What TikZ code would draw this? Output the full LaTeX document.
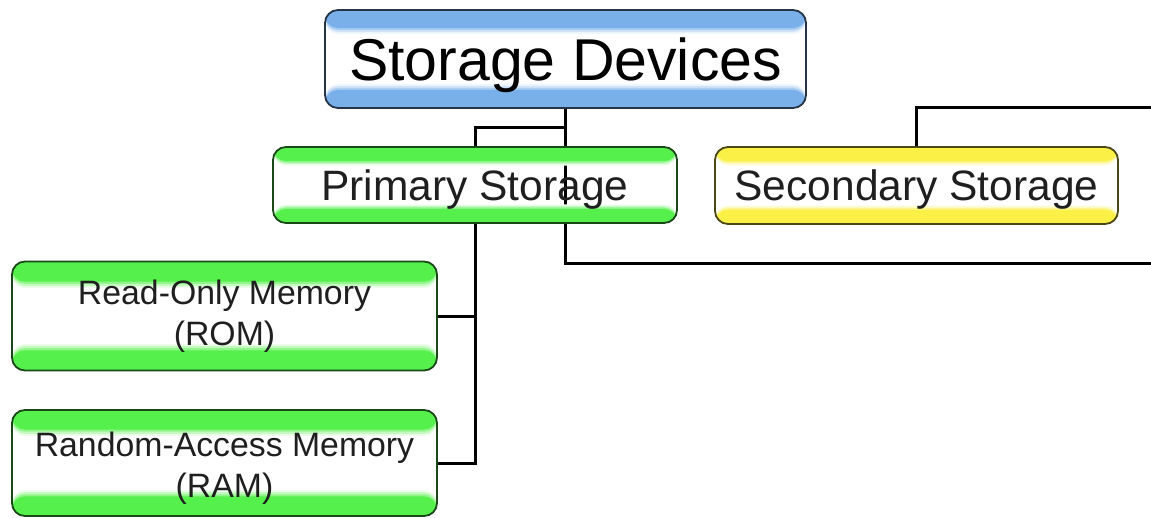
\documentclass[tikz,border=0pt]{standalone}
\usepackage{fontspec}
\setmainfont{Liberation Sans}
\usetikzlibrary{calc}
\pgfdeclarelayer{bg}
\pgfsetlayers{bg,main}
\definecolor{bandblue}{RGB}{122,176,234}
\definecolor{bandgreen}{RGB}{86,240,76}
\definecolor{bandyellow}{RGB}{250,240,70}
\newcommand{\ppb}[1]{path picture bounding box.#1}
\newcommand{\topband}[2]{\fill[#1] (\ppb{north west}) rectangle ($(\ppb{north east})!#2!(\ppb{south east})$);}
\newcommand{\botband}[2]{\fill[#1] ($(\ppb{north west})!#2!(\ppb{south west})$) rectangle (\ppb{south east});}
\tikzset{
  box/.style={draw=#1!30!black, line width=1.8pt, rounded corners=13pt, inner sep=0pt,
    text=black!88,
    path picture={
      \topband{#1!12!white}{0.245}
      \topband{#1!35!white}{0.225}
      \topband{#1!65!white}{0.205}
      \topband{#1}{0.185}
      \botband{#1!12!white}{0.755}
      \botband{#1!35!white}{0.775}
      \botband{#1!65!white}{0.795}
      \botband{#1}{0.815}
    }},
  conn/.style={draw=black, line width=3pt},
}
\begin{document}
\begin{tikzpicture}[x=1pt,y=1pt]
\useasboundingbox (0,0) rectangle (1151,-517);
\node[box=bandblue, minimum width=481pt, minimum height=98pt, text=black,
      font=\fontsize{59}{66}\selectfont, text height=42pt, text depth=0pt]
      (sd) at (565.5,-59) {Storage Devices};
\node[box=bandgreen, minimum width=404pt, minimum height=76pt,
      font=\fontsize{42.5}{48}\selectfont, text height=30pt, text depth=0pt]
      (ps) at (475,-185) {Primary Storage};
\node[box=bandyellow, minimum width=403pt, minimum height=77pt,
      font=\fontsize{42.5}{48}\selectfont, text height=30pt, text depth=0pt]
      (ss) at (916.5,-185.5) {Secondary Storage};
\node[box=bandgreen, minimum width=425pt, minimum height=109pt, align=center,
      font=\fontsize{33.8}{40.5}\selectfont]
      (rom) at (224.5,-316) {Read-Only Memory\\(ROM)};
\node[box=bandgreen, minimum width=425pt, minimum height=106pt, align=center,
      font=\fontsize{33.8}{41}\selectfont, text height=76pt, text depth=7pt]
      (ram) at (224.5,-463) {Random-Access Memory\\(RAM)};
\coordinate (e1) at (1151,-263);
\coordinate (e2) at (1151,-107);
\begin{pgfonlayer}{bg}
\draw[conn] (sd.south) -- ++(0,-19) -| (ps.north);
\draw[conn] (sd.south) |- (e1);
\draw[conn] (ss.north) |- (e2);
\draw[conn] (ps.south) -- (ps.south |- ram.east) -- (ram.east);
\draw[conn] (ps.south |- rom.east) -- (rom.east);
\end{pgfonlayer}
\end{tikzpicture}
\end{document}
